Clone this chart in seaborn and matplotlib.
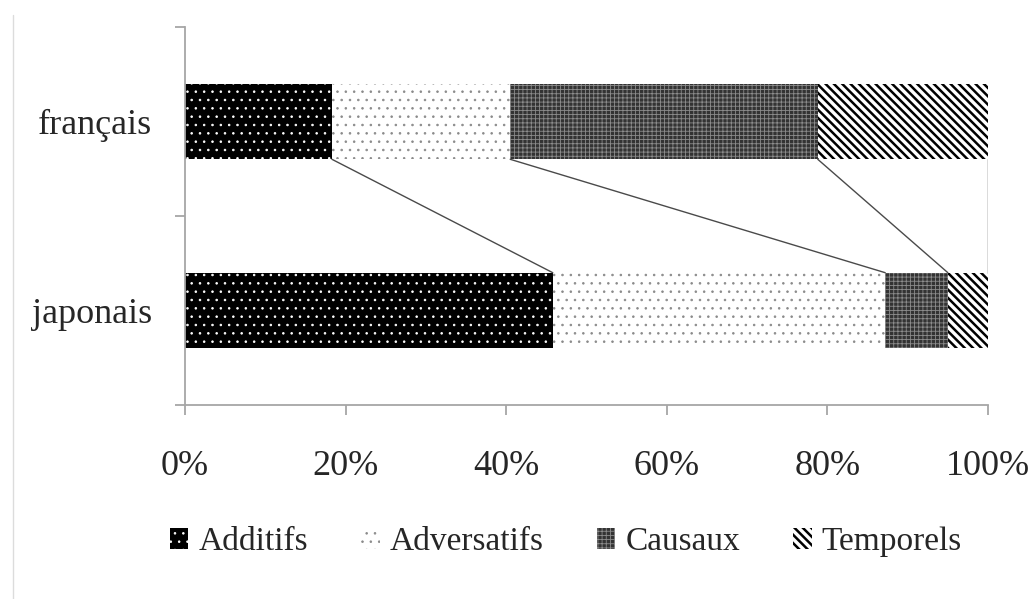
import numpy as np
import pandas as pd
import matplotlib
matplotlib.use("Agg")
import matplotlib.pyplot as plt
import seaborn as sns
from matplotlib.patches import Patch
from matplotlib.lines import Line2D

# Répartition des connecteurs par type (en %)
langues = ["français", "japonais"]
categories = ["Additifs", "Adversatifs", "Causaux", "Temporels"]
francais = [18.3, 22.2, 38.3, 21.2]
japonais = [45.8, 41.4, 7.8, 5.0]
x_ticks = [0, 20, 40, 60, 80, 100]
x_labels = ["0%", "20%", "40%", "60%", "80%", "100%"]

# Motifs noir et blanc de chaque série
motifs = {
    "Additifs":    dict(face="black",   hatch="..",   hc="white",   hlw=0.6),
    "Adversatifs": dict(face="white",   hatch="..",   hc="#8a8a8a", hlw=0.6),
    "Causaux":     dict(face="#333333", hatch="++++", hc="#8c8c8c", hlw=0.6),
    "Temporels":   dict(face="white",   hatch=r"\\\\", hc="black",  hlw=1.8),
}

sns.set_theme(style="white")
plt.rcParams["font.family"] = ["Liberation Serif", "DejaVu Serif"]

fig = plt.figure(figsize=(10.34, 5.99), dpi=100)
ax = fig.add_axes([185 / 1034, 1 - 405 / 599, (988 - 185) / 1034, (405 - 27) / 599])

cum_fr = np.cumsum(francais)
cum_ja = np.cumsum(japonais)


def style_patch(p, m):
    p.set_facecolor(m["face"])
    p.set_edgecolor(m["hc"])
    p.set_linewidth(0)
    p.set_hatch(m["hatch"])
    if hasattr(p, "set_hatch_linewidth"):
        p.set_hatch_linewidth(m["hlw"])


# Barres empilées : on trace les cumuls de l'arrière vers l'avant
for i in reversed(range(len(categories))):
    cat = categories[i]
    m = motifs[cat]
    df = pd.DataFrame({"langue": langues, "cumul": [cum_fr[i], cum_ja[i]]})
    n0 = len(ax.patches)
    plt.rcParams["hatch.linewidth"] = m["hlw"]
    sns.barplot(data=df, x="cumul", y="langue", order=langues, orient="h",
                color=m["face"], saturation=1, width=0.4, errorbar=None, ax=ax)
    for p in ax.patches[n0:]:
        style_patch(p, m)

# Lignes de liaison entre les deux barres
for a, b in zip(cum_fr, cum_ja):
    ax.plot([a, b], [0.2, 0.8], color="#4a4a4a", lw=1.0, zorder=3)

ax.set_xlim(0, 100)
ax.set_ylim(1.5, -0.5)
ax.set_xlabel("")
ax.set_ylabel("")

axis_grey = "#a6a6a6"
for side in ["top", "right"]:
    ax.spines[side].set_visible(False)
for side in ["left", "bottom"]:
    ax.spines[side].set_color(axis_grey)
    ax.spines[side].set_linewidth(1.3)

ax.set_xticks(x_ticks)
ax.set_xticklabels(x_labels, fontsize=26)
ax.tick_params(axis="x", direction="out", length=7.5, width=1.3, color=axis_grey,
               pad=25, bottom=True)
ax.set_yticks([0, 1])
ax.set_yticklabels(langues, fontsize=26)
ax.set_yticks([-0.5, 0.5, 1.5], minor=True)
ax.tick_params(axis="y", which="major", length=0, pad=24, left=False)
ax.tick_params(axis="y", which="minor", direction="out", length=7.5, width=1.3,
               color=axis_grey, left=True)

# Légende
handles = []
for cat in categories:
    m = motifs[cat]
    h = Patch(facecolor=m["face"], edgecolor=m["hc"], hatch=m["hatch"], linewidth=0)
    handles.append(h)
leg = fig.legend(handles, categories, loc="center", ncol=4,
                 bbox_to_anchor=(566 / 1034, 1 - 542 / 599), frameon=False,
                 fontsize=24, handlelength=0.55, handleheight=0.55,
                 handletextpad=0.3, columnspacing=1.6)
for h, cat in zip(leg.legend_handles, categories):
    if hasattr(h, "set_hatch_linewidth"):
        h.set_hatch_linewidth(motifs[cat]["hlw"])

# Filet vertical en marge gauche
fig.add_artist(Line2D([12.5 / 1034, 12.5 / 1034], [0, 1 - 15 / 599],
                      transform=fig.transFigure, color="#dcdcdc", lw=1))

fig.savefig("out.png", dpi=100, facecolor="white")
